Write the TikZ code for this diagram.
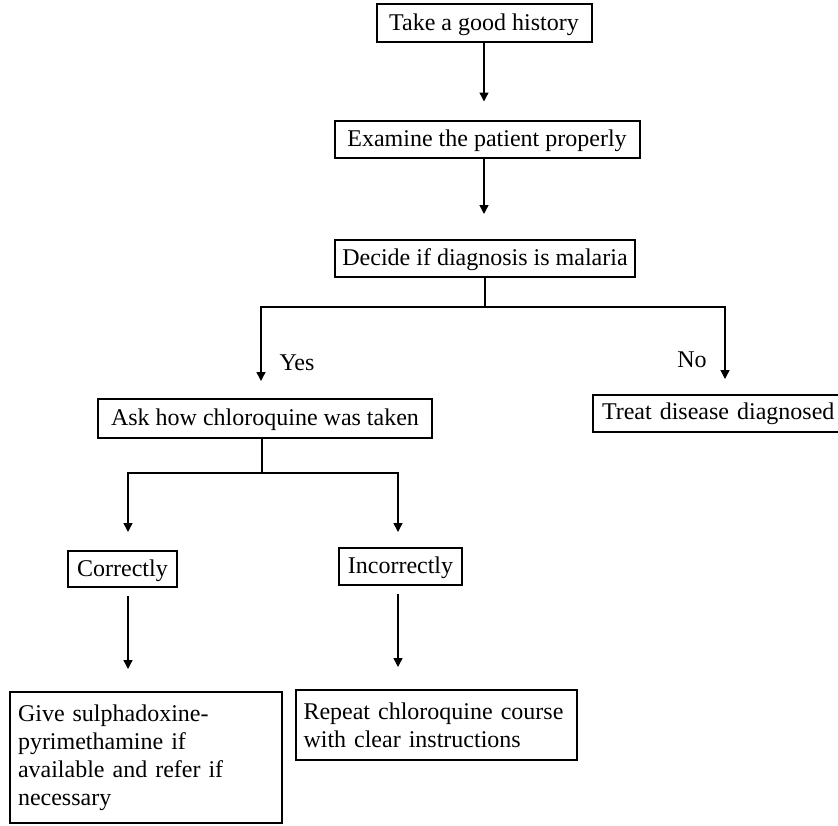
\documentclass[tikz,border=0pt]{standalone}
\usepackage{fontspec}
\setmainfont{Liberation Serif}
\usetikzlibrary{arrows.meta}
\begin{document}
\begin{tikzpicture}[x=1pt,y=-1pt,
  txt/.style={font=\fontsize{24}{28}\selectfont},
  box/.style={txt, draw, line width=2pt, inner sep=0pt, text height=19pt, text depth=5pt},
  multibox/.style={txt, draw, line width=2pt, inner xsep=8pt, inner ysep=0pt, align=left},
  lbl/.style={txt, inner sep=0pt},
  ln/.style={line width=1.4pt},
  arr/.style={ln, -{Triangle[width=9pt,length=9pt]}}]
\clip (0,0) rectangle (838,825);
\node[box, minimum width=215pt, minimum height=38pt] (take) at (484,23) {Take a good history};
\node[box, minimum width=305pt, minimum height=37pt] (examine) at (487,139) {Examine the patient properly};
\node[box, minimum width=300pt, minimum height=37pt] (decide) at (485,258.5) {Decide if diagnosis is malaria};
\node[box, minimum width=334pt, minimum height=39pt] (ask) at (265,418.5) {Ask how chloroquine was taken};
\node[multibox, anchor=west, text width=240pt, inner xsep=9pt, minimum height=37pt] (treat) at (592,413.5) {Treat disease diagnosed};
\node[box, minimum width=109pt, minimum height=36pt] (correctly) at (122.5,569) {Correctly};
\node[box, minimum width=123pt, minimum height=37pt] (incorrectly) at (400.5,566.5) {Incorrectly};
\node[multibox, text width=256pt, minimum height=131pt] (give) at (146,757.5) {Give sulphadoxine-\\pyrimethamine if\\available and refer if\\necessary};
\node[multibox, text width=266pt, inner xsep=7.5pt, minimum height=70pt] (repeat) at (436.5,725) {Repeat chloroquine course\\with clear instructions};
\node[lbl] (yes) at (297,363) {Yes};
\node[lbl] (no) at (692,360) {No};

\coordinate (f1) at (485,307);
\coordinate (yesx) at (261,307);
\coordinate (nox) at (725,307);
\coordinate (f2) at (262,473);
\coordinate (cx) at (128,473);
\coordinate (ix) at (398,473);

\draw[arr, shorten >=18pt] (take.south) -- (take.south |- examine.north);
\draw[arr, shorten >=25pt] (take.south |- examine.south) -- (take.south |- decide.north);
\draw[ln] (decide.south) -- (f1);
\draw[arr, shorten >=17pt] (f1) -- (yesx) -- (yesx |- ask.north);
\draw[arr, shorten >=15pt] (f1) -- (nox) -- (nox |- treat.north);
\draw[ln] (ask.south -| f2) -- (f2);
\draw[arr, shorten >=18pt] (f2) -- (cx) -- (cx |- correctly.north);
\draw[arr, shorten >=15pt] (f2) -- (ix) -- (ix |- incorrectly.north);
\draw[arr, shorten <=8pt, shorten >=22pt] (cx |- correctly.south) -- (cx |- give.north);
\draw[arr, shorten <=8pt, shorten >=22pt] (ix |- incorrectly.south) -- (ix |- repeat.north);
\end{tikzpicture}
\end{document}
